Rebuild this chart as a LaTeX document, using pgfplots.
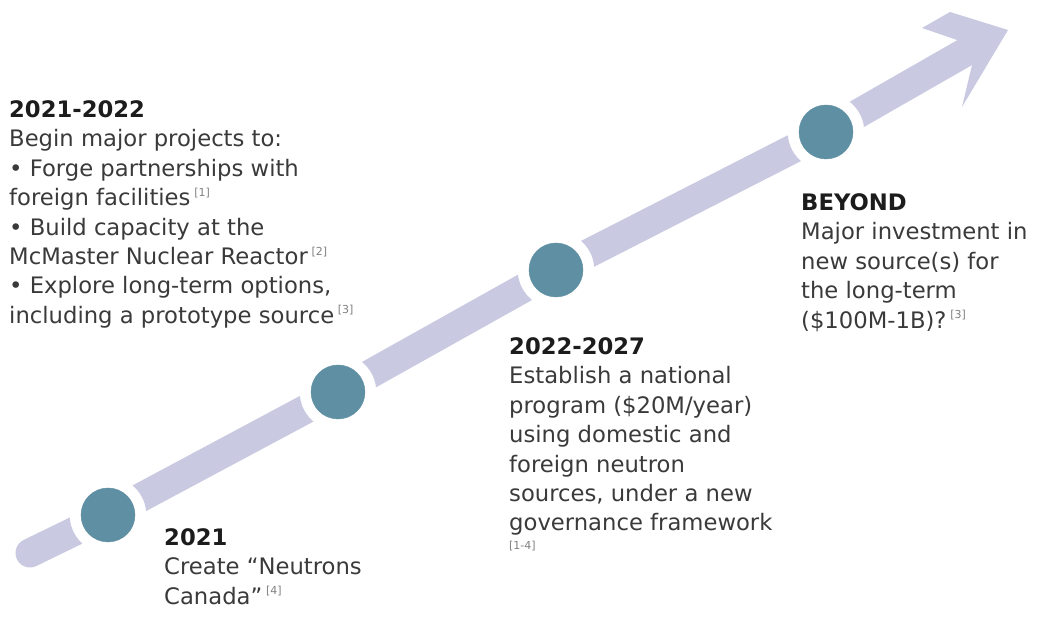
\documentclass[border=0pt]{standalone}
\usepackage{pgfplots}
\pgfplotsset{compat=1.18}
\usepackage{fontspec}
\setmainfont{DejaVu Sans}

\definecolor{shaft}{HTML}{C9C9E2}
\definecolor{dot}{HTML}{5E8FA2}
\definecolor{body}{HTML}{3A3A3A}
\definecolor{head}{HTML}{1C1C1C}

% small bracketed reference, raised
\newcommand{\rf}[1]{\,\raisebox{0.42em}{\fontsize{11}{11}\selectfont\color{gray}[#1]}}

\begin{document}
\begin{tikzpicture}
\begin{axis}[
    width=1039pt, height=620pt, scale only axis,
    xmin=0, xmax=1039, ymin=0, ymax=620,
    hide axis, clip=false,
]
% arrow shaft through the four milestones
\addplot[shaft, line width=29pt, line cap=round, line join=round]
    coordinates {(30,67) (108,105) (338,228) (556,350) (826,488) (964,567)};
% arrow head
\addplot[draw=none, fill=shaft]
    coordinates {(957,580) (922,592) (950,608) (1008,590) (962,513) (972,555)};
% white gaps round the milestones
\addplot[only marks, mark=*, mark size=38pt, white]
    coordinates {(108,105) (338,228) (556,350) (826,488)};
% milestones
\addplot[only marks, mark=*, mark size=27pt, dot]
    coordinates {(108,105) (338,228) (556,350) (826,488)};

\tikzset{txt/.style={anchor=north west, inner sep=0pt, align=left,
    font=\fontsize{22.7}{29.4}\selectfont, text=body}}

\node[txt] at (axis cs:9,519.5) {%
    {\bfseries\color{head}2021-2022}\\
    Begin major projects to:\\
    • Forge partnerships with\\
    foreign facilities\rf{1}\\
    • Build capacity at the\\
    McMaster Nuclear Reactor\rf{2}\\
    • Explore long-term options,\\
    including a prototype source\rf{3}};

\node[txt] at (axis cs:509,282.5) {%
    {\bfseries\color{head}2022-2027}\\
    Establish a national\\
    program (\$20M/year)\\
    using domestic and\\
    foreign neutron\\
    sources, under a new\\
    governance framework\\[-11pt]
    {\fontsize{11}{11}\selectfont\color{gray}[1-4]}};

\node[txt] at (axis cs:801,426.5) {%
    {\bfseries\color{head}BEYOND}\\
    Major investment in\\
    new source(s) for\\
    the long-term\\
    (\$100M-1B)?\rf{3}};

\node[txt] at (axis cs:164,91.5) {%
    {\bfseries\color{head}2021}\\
    Create “Neutrons\\
    Canada”\rf{4}};
\end{axis}
\path (current axis.south west) rectangle (current axis.north east);
\end{tikzpicture}
\end{document}
